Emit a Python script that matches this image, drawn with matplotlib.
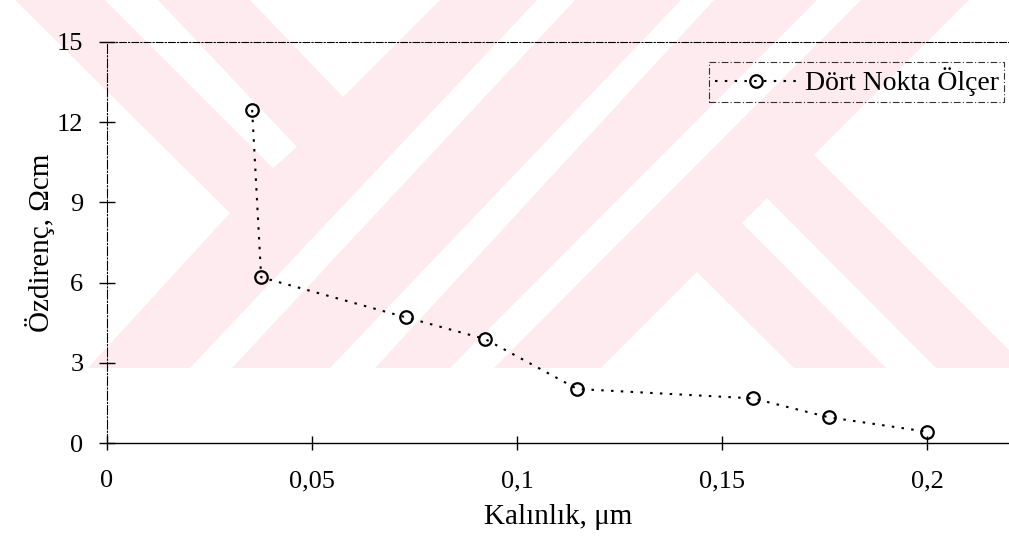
import matplotlib
matplotlib.use("Agg")
import matplotlib.pyplot as plt
from matplotlib.patches import Polygon, Rectangle

# veriler
kalinlik = [0.0354, 0.0376, 0.0729, 0.0922, 0.1147, 0.1575, 0.1761, 0.2001]
ozdirenc = [12.46, 6.20, 4.70, 3.89, 2.02, 1.67, 0.96, 0.42]
seri_adi = "Dört Nokta Ölçer"

x_ticks = [0, 0.05, 0.1, 0.15, 0.2]
x_tick_labels = ["0", "0,05", "0,1", "0,15", "0,2"]
y_ticks = [0, 3, 6, 9, 12, 15]

plt.rcParams["font.family"] = ["Liberation Serif", "DejaVu Serif"]

fig = plt.figure(figsize=(10.09, 5.40), dpi=100)

# arka plandaki soluk pembe filigran (piksel koordinatlari)
bg = fig.add_axes([0, 0, 1, 1], zorder=0)
bg.set_xlim(0, 1009)
bg.set_ylim(540, 0)
bg.axis("off")
pembe = "#fdebef"
bg.add_patch(Rectangle((0, 0), 1009, 368, facecolor=pembe, edgecolor="none"))
beyaz_alanlar = [
    [(0, 0), (15, 0), (230, 213), (88, 368), (0, 368)],
    [(105, 0), (158, 0), (297, 147), (273, 168)],
    [(250, 0), (440, 0), (343, 97)],
    [(537, 0), (575, 0), (232, 368), (190, 368)],
    [(681, 0), (714, 0), (375, 368), (330, 368)],
    [(817, 0), (861, 0), (494, 368), (450, 368)],
    [(969, 0), (1009, 0), (1009, 350), (814, 155)],
    [(767, 198), (742, 223), (886, 368), (936, 368)],
    [(697, 272), (601, 368), (794, 368)],
]
for alan in beyaz_alanlar:
    bg.add_patch(Polygon(alan, closed=True, facecolor="white", edgecolor="none"))

# ana grafik
ax = fig.add_axes([107 / 1009, 97 / 540, 902 / 1009, 401 / 540], zorder=1)
ax.set_facecolor("none")

ax.plot(kalinlik, ozdirenc, color="black", linestyle=(0, (1.2, 3.5)), linewidth=1.5,
        marker="o", markersize=9, markerfacecolor="none", markeredgecolor="black",
        markeredgewidth=1.6, label=seri_adi, clip_on=False)

ax.set_xlim(0, 0.22)
ax.set_ylim(0, 15)
ax.set_xticks(x_ticks)
ax.set_xticklabels(x_tick_labels)
ax.set_yticks(y_ticks)

ax.tick_params(axis="x", direction="inout", length=9.5, width=1.0, pad=15, labelsize=19)
ax.tick_params(axis="y", direction="inout", length=12, width=1.0, pad=11, labelsize=19)

# cerceve
ax.spines["right"].set_visible(False)
ax.spines["top"].set_linestyle((0, (6, 2, 1, 2)))
ax.spines["top"].set_linewidth(0.8)
ax.spines["left"].set_linestyle((0, (8, 2, 1, 2)))
ax.spines["left"].set_linewidth(0.8)
ax.spines["bottom"].set_linewidth(1.0)

# eksen etiketleri
ax.set_xlabel("Kalınlık, μm", fontsize=21, labelpad=8)
ax.set_ylabel("Özdirenç, Ωcm", fontsize=21, labelpad=1)

# gosterge
leg = ax.legend(loc="upper right", bbox_to_anchor=(0.995, 0.95), fontsize=20,
                frameon=True, fancybox=False, handlelength=3.0, handletextpad=0.25,
                borderpad=0.2, borderaxespad=0)
leg.get_frame().set_facecolor("none")
leg.get_frame().set_edgecolor("black")
leg.get_frame().set_linewidth(0.8)
leg.get_frame().set_linestyle((0, (6, 2, 1, 2)))

plt.savefig("out.png", dpi=100)
